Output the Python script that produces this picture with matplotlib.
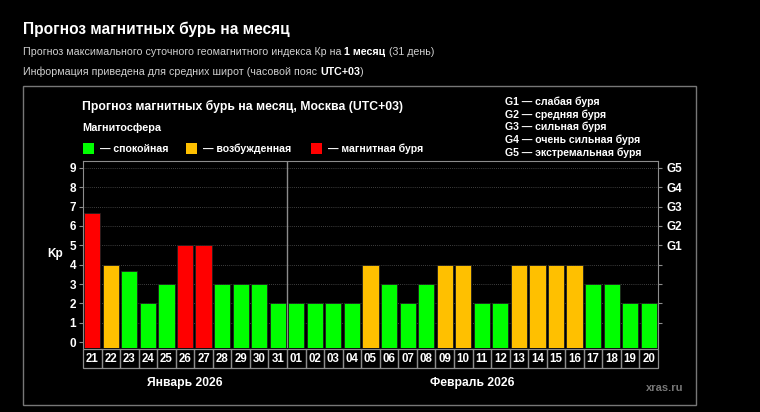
import matplotlib.pyplot as plt
from matplotlib.patches import Rectangle
import matplotlib.transforms as mtransforms

plt.rcParams['font.family'] = ['Liberation Sans', 'DejaVu Sans']

# data
days = ["21", "22", "23", "24", "25", "26", "27", "28", "29", "30", "31",
        "01", "02", "03", "04", "05", "06", "07", "08", "09", "10",
        "11", "12", "13", "14", "15", "16", "17", "18", "19", "20"]
kp = [6.67, 4, 3.67, 2, 3, 5, 5, 3, 3, 3, 2,
      2, 2, 2, 2, 4, 3, 2, 3, 4, 4,
      2, 2, 4, 4, 4, 4, 3, 3, 2, 2]
months = ["Январь 2026", "Февраль 2026"]
month_days = [11, 20]
g_labels = ["G1", "G2", "G3", "G4", "G5"]
g_names = ["G1 — слабая буря", "G2 — средняя буря", "G3 — сильная буря",
           "G4 — очень сильная буря", "G5 — экстремальная буря"]
legend_names = ["— спокойная", "— возбужденная", "— магнитная буря"]

GREEN = "#00ff00"
ORANGE = "#ffc000"
RED = "#ff0000"
GRAY = "#8c8c8c"

def kp_color(v):
    if v >= 5:
        return RED
    if v >= 4:
        return ORANGE
    return GREEN

W, H = 760, 412
fig = plt.figure(figsize=(W / 100, H / 100), dpi=100, facecolor="black")

def fx(px):
    return px / W

def fy(py):
    return 1 - py / H

# page header
fig.text(fx(23), fy(29), "Прогноз магнитных бурь на месяц", color="white",
         fontsize=11.2, fontweight="bold", va="center")

# outer frame
fig.patches.append(Rectangle((fx(23), fy(405)), fx(696) - fx(23), fy(86) - fy(405),
                             transform=fig.transFigure, fill=False,
                             edgecolor="#777777", linewidth=1))

# chart title and legend
fig.text(fx(82), fy(106), "Прогноз магнитных бурь на месяц, Москва (UTC+03)",
         color="white", fontsize=8.8, fontweight="bold", va="center")
fig.text(fx(82), fy(128), "Магнитосфера", color="white", fontsize=7.8,
         fontweight="bold", va="center")
for col, name, x0 in zip([GREEN, ORANGE, RED], legend_names, [83, 186, 311]):
    fig.patches.append(Rectangle((fx(x0), fy(154)), fx(11), 11 / H,
                                 transform=fig.transFigure, facecolor=col,
                                 edgecolor="none"))
    fig.text(fx(x0 + 17), fy(148.5), name, color="white", fontsize=7.6,
             fontweight="bold", va="center")
for i, name in enumerate(g_names):
    fig.text(fx(505), fy(101.5 + i * 12.8), name, color="white", fontsize=7.6,
             fontweight="bold", va="center")

ax = fig.add_axes([fx(83), fy(348), fx(658) - fx(83), fy(161) - fy(348)])
ax.set_facecolor("black")
lo = -0.3
x = list(range(len(days)))
ax.bar(x, [v - lo for v in kp], bottom=lo, width=0.87,
       color=[kp_color(v) for v in kp], edgecolor="#202020", linewidth=0.6, zorder=3)
ax.set_xlim(-0.5, len(days) - 0.5)
ax.set_ylim(lo, 9.35)

for lvl in range(1, 10):
    ax.axhline(lvl, color="#555555", linestyle=(0, (1, 1.5)), linewidth=0.6, zorder=1)
ax.axvline(month_days[0] - 0.5, color=GRAY, linewidth=1, zorder=2)

for s in ["top", "left", "right"]:
    ax.spines[s].set_color(GRAY)
ax.spines["bottom"].set_visible(False)
ax.set_xticks([])
ax.set_yticks(range(10))
ax.tick_params(axis="y", colors=GRAY, length=3, width=0.8, labelsize=8.5,
               labelcolor="white", pad=2)
for lab in ax.get_yticklabels():
    lab.set_fontweight("bold")
ax.set_ylabel("Kp", color="white", fontsize=8.5, fontweight="bold", rotation=0,
              labelpad=10, va="center")

ax2 = ax.twinx()
ax2.set_ylim(ax.get_ylim())
ax2.set_yticks(range(1, 10))
ax2.set_yticklabels(["", "", "", ""] + g_labels)
ax2.tick_params(axis="y", colors=GRAY, length=3, width=0.8, labelsize=8.5,
                labelcolor="white", pad=3)
for lab in ax2.get_yticklabels():
    lab.set_fontweight("bold")
for s in ax2.spines.values():
    s.set_visible(False)

# day label boxes under the axis
trans = mtransforms.blended_transform_factory(ax.transData, ax.transAxes)
bh = 19 / 187
for i, d in enumerate(days):
    ax.add_patch(Rectangle((i - 0.5, -0.006 - bh), 1, bh, transform=trans,
                           fill=False, edgecolor=GRAY, linewidth=0.9, clip_on=False))
    ax.text(i, -0.006 - bh / 2, d, transform=trans, color="white", fontsize=8.3,
            fontweight="bold", ha="center", va="center")

start = 0
for m, n in zip(months, month_days):
    ax.text(start + n / 2 - 0.5, -0.185, m, transform=trans, color="white",
            fontsize=8.7, fontweight="bold", ha="center", va="center")
    start += n

fig.text(fx(665), fy(388), "xras.ru", color="#777777", fontsize=8,
         fontweight="bold", ha="center", va="center")

# header lines with bold parts
r = fig.canvas.get_renderer()
for ypix, plain, bold, tail in [
        (52, "Прогноз максимального суточного геомагнитного индекса Кр на ", "1 месяц", " (31 день)"),
        (72, "Информация приведена для средних широт (часовой пояс ", "UTC+03", ")")]:
    a = fig.text(fx(23), fy(ypix), plain, color="#d0d0d0", fontsize=7.7, va="center")
    w = a.get_window_extent(r).width
    b = fig.text(fx(23 + w), fy(ypix), bold, color="white", fontsize=7.7,
                 fontweight="bold", va="center")
    wb = b.get_window_extent(r).width
    fig.text(fx(23 + w + wb), fy(ypix), tail, color="#d0d0d0", fontsize=7.7, va="center")

fig.savefig("out.png", dpi=100, facecolor="black")
